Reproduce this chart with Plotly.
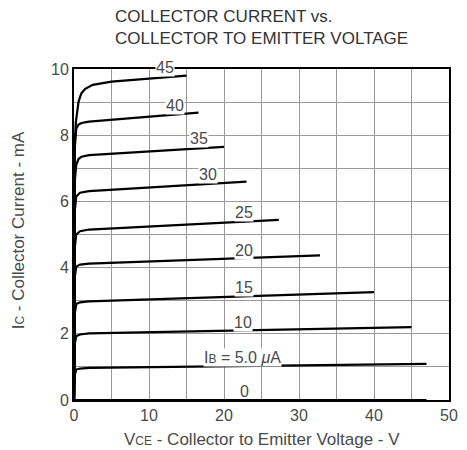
import plotly.graph_objects as go

# Base current curves: IB (uA) -> (VCE in V, IC in mA)
ib_labels = ["0", "I<span style='font-size:12px'>B</span> = 5.0 <i>μ</i>A", "10", "15", "20", "25", "30", "35", "40", "45"]

v_0 = [0, 47]
i_0 = [0, 0]

v_5 = [0, 0.1, 0.3, 0.8, 2, 47]
i_5 = [0, 0.75, 0.92, 0.95, 0.97, 1.09]

v_10 = [0, 0.1, 0.3, 0.8, 2, 45]
i_10 = [0, 1.7, 1.93, 1.98, 2.01, 2.2]

v_15 = [0, 0.1, 0.3, 0.8, 2, 40]
i_15 = [0, 2.6, 2.9, 2.95, 2.98, 3.26]

v_20 = [0, 0.1, 0.3, 0.8, 2, 32.8]
i_20 = [0, 3.7, 4.03, 4.09, 4.12, 4.37]

v_25 = [0, 0.1, 0.3, 0.8, 2, 27.3]
i_25 = [0, 4.6, 5.0, 5.1, 5.15, 5.44]

v_30 = [0, 0.1, 0.3, 0.8, 2, 23]
i_30 = [0, 5.7, 6.15, 6.26, 6.31, 6.6]

v_35 = [0, 0.1, 0.3, 0.6, 1, 2, 20]
i_35 = [0, 6.6, 7.1, 7.28, 7.35, 7.4, 7.65]

v_40 = [0, 0.1, 0.3, 0.6, 1, 2, 16.6]
i_40 = [0, 7.6, 8.2, 8.32, 8.37, 8.41, 8.68]

v_45 = [0, 0.1, 0.25, 0.4, 0.6, 0.8, 1.0, 1.5, 2.5, 5, 15]
i_45 = [0, 7.8, 8.4, 8.75, 9.0, 9.15, 9.27, 9.4, 9.52, 9.62, 9.8]

curves_v = [v_0, v_5, v_10, v_15, v_20, v_25, v_30, v_35, v_40, v_45]
curves_i = [i_0, i_5, i_10, i_15, i_20, i_25, i_30, i_35, i_40, i_45]

# label anchor positions (V, mA)
label_v = [22.7, 22.4, 22.5, 22.6, 22.7, 22.7, 17.9, 16.7, 13.4, 12.1]
label_i = [0.25, 1.27, 2.34, 3.4, 4.53, 5.66, 6.8, 7.9, 8.9, 10.0]

title_lines = ["COLLECTOR CURRENT vs.", "COLLECTOR TO EMITTER VOLTAGE"]
x_title = "V<span style='font-size:12px'>CE</span> - Collector to Emitter Voltage - V"
y_title = "I<span style='font-size:12px'>C</span> - Collector Current - mA"

x_ticks = [0, 10, 20, 30, 40, 50]
y_ticks = [0, 2, 4, 6, 8, 10]

FONT = "Liberation Sans, Arial, sans-serif"
TXT = "#4a4a4a"

fig = go.Figure()
for v, i in zip(curves_v, curves_i):
    fig.add_trace(go.Scatter(x=v, y=i, mode="lines",
                             line=dict(color="black", width=2.2),
                             showlegend=False, hoverinfo="skip", cliponaxis=False))

for t, lv, li in zip(ib_labels, label_v, label_i):
    fig.add_annotation(x=lv, y=li, text=t, showarrow=False,
                       font=dict(family=FONT, size=16, color=TXT),
                       bgcolor="rgba(0,0,0,0)" if li < 0.5 else "white",
                       borderpad=0, xanchor="center", yanchor="middle",
                       yshift=2 if li >= 10 else 0)

fig.add_annotation(xref="paper", yref="paper", x=(114 - 74) / 384, y=(400 - 5) / 331,
                   text="<br>".join(title_lines), showarrow=False, align="left",
                   xanchor="left", yanchor="top",
                   font=dict(family=FONT, size=17, color="#333333"))
fig.add_annotation(xref="paper", yref="paper", x=(267 - 74) / 384, y=(400 - 439) / 331,
                   text=x_title, showarrow=False, xanchor="center", yanchor="middle",
                   font=dict(family=FONT, size=17, color=TXT))
fig.add_annotation(xref="paper", yref="paper", x=(18 - 74) / 384, y=(400 - 230) / 331,
                   text=y_title, showarrow=False, textangle=-90,
                   xanchor="center", yanchor="middle",
                   font=dict(family=FONT, size=17, color=TXT))

axis_common = dict(showline=True, linecolor="black", linewidth=2, mirror=True,
                   showgrid=True, gridcolor="#999999", gridwidth=1, zeroline=False,
                   ticks="", tickfont=dict(family=FONT, size=16, color=TXT))

fig.update_xaxes(range=[0, 50], tickvals=x_ticks,
                 minor=dict(dtick=5, showgrid=True, gridcolor="#999999", gridwidth=1),
                 **axis_common)
fig.update_yaxes(range=[0, 10], tickvals=y_ticks,
                 minor=dict(dtick=1, showgrid=True, gridcolor="#999999", gridwidth=1),
                 **axis_common)

fig.update_layout(width=467, height=450,
                  margin=dict(l=74, r=9, t=69, b=50),
                  plot_bgcolor="white", paper_bgcolor="white",
                  font=dict(family=FONT))

fig.write_html("out.html", config={"displayModeBar": False},
               post_script="document.body.style.margin='0';document.body.style.overflow='hidden';")
